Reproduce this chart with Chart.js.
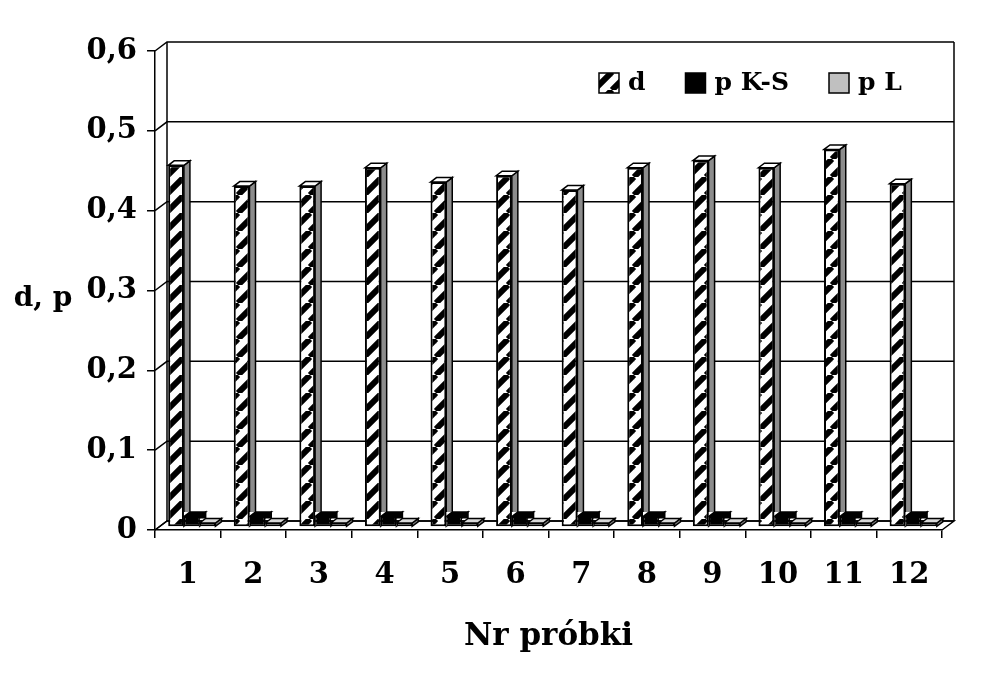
<!DOCTYPE html>
<html>
<head>
<meta charset="utf-8">
<script src="https://cdn.jsdelivr.net/npm/chart.js@4.4.0/dist/chart.umd.min.js"></script>
<style>
html,body{margin:0;padding:0;background:#ffffff;}
#wrap{width:989px;height:693px;position:relative;}
</style>
</head>
<body>
<div id="wrap"><canvas id="c" width="989" height="693"></canvas></div>
<script>
// ---- data ----
const categories = ['1','2','3','4','5','6','7','8','9','10','11','12'];
const seriesNames = ['d', 'p K-S', 'p L'];
const dValues   = [0.453, 0.427, 0.427, 0.450, 0.432, 0.440, 0.422, 0.450, 0.459, 0.450, 0.473, 0.430];
const pKSValues = [0.013, 0.013, 0.013, 0.013, 0.013, 0.013, 0.013, 0.013, 0.013, 0.013, 0.013, 0.013];
const pLValues  = [0.005, 0.005, 0.005, 0.005, 0.005, 0.005, 0.005, 0.005, 0.005, 0.005, 0.005, 0.005];
const yTickLabels = ['0', '0,1', '0,2', '0,3', '0,4', '0,5', '0,6'];
const yAxisTitle = 'd, p';
const xAxisTitle = 'Nr próbki';

// ---- styles ----
const FONT = 'DejaVu Serif';
const WALL_DX = 12, WALL_DY = -9;      // depth of back wall
const BAR_OFF_X = 4, BAR_OFF_Y = -3;   // bar front offset from front plane
const BAR_DX = 6, BAR_DY = -4.5;       // bar depth
const frontColors = [null, '#000000', '#c0c0c0'];
const sideColors = ['#8c8c8c', '#000000', '#808080'];
const topColors = ['#ffffff', '#000000', '#d8d8d8'];

const canvas = document.getElementById('c');
const ctx0 = canvas.getContext('2d');

function makeHatch() {
  const s = 18;
  const c = document.createElement('canvas');
  c.width = s; c.height = s;
  const g = c.getContext('2d');
  g.fillStyle = '#ffffff';
  g.fillRect(0, 0, s, s);
  g.strokeStyle = '#000000';
  g.lineWidth = 6;
  for (const k of [-1, 0, 1]) {
    g.beginPath();
    g.moveTo(k * s, s);
    g.lineTo(k * s + s, 0);
    g.stroke();
  }
  return ctx0.createPattern(c, 'repeat');
}
const hatch = makeHatch();
frontColors[0] = hatch;

function line(ctx, pts) {
  ctx.beginPath();
  ctx.moveTo(pts[0][0], pts[0][1]);
  for (let i = 1; i < pts.length; i++) ctx.lineTo(pts[i][0], pts[i][1]);
  ctx.stroke();
}

const threeD = {
  id: 'threeD',
  beforeDatasetsDraw(chart) {
    const ctx = chart.ctx;
    const {left, right, top, bottom} = chart.chartArea;
    const ys = chart.scales.y;
    ctx.save();
    ctx.strokeStyle = '#000000';
    ctx.lineWidth = 1.5;
    ys.ticks.forEach(t => {
      const py = ys.getPixelForValue(t.value);
      line(ctx, [[left, py], [left + WALL_DX, py + WALL_DY], [right + WALL_DX, py + WALL_DY]]);
    });
    line(ctx, [[left + WALL_DX, top + WALL_DY], [left + WALL_DX, bottom + WALL_DY]]);
    line(ctx, [[right + WALL_DX, top + WALL_DY], [right + WALL_DX, bottom + WALL_DY]]);
    line(ctx, [[left, bottom], [left + WALL_DX, bottom + WALL_DY], [right + WALL_DX, bottom + WALL_DY], [right, bottom]]);
    ctx.restore();
  },
  beforeDatasetDraw(chart, args) {
    chart.ctx.save();
    chart.ctx.translate(BAR_OFF_X, BAR_OFF_Y);
  },
  afterDatasetDraw(chart, args) {
    const ctx = chart.ctx;
    const i = args.index;
    ctx.save();
    if (i + 1 < chart.data.datasets.length) {
      const next = chart.getDatasetMeta(i + 1);
      ctx.beginPath();
      ctx.rect(-200, -200, chart.width + 400, chart.height + 400);
      next.data.forEach(n => {
        const l = n.x - n.width / 2;
        ctx.rect(l, n.y + BAR_DY, n.width + BAR_DX, n.base - n.y - BAR_DY);
      });
      ctx.clip('evenodd');
    }
    ctx.strokeStyle = '#000000';
    ctx.lineWidth = 1.5;
    ctx.lineJoin = 'miter';
    args.meta.data.forEach(el => {
      const l = el.x - el.width / 2, r = el.x + el.width / 2;
      const t = el.y, b = el.base;
      ctx.beginPath();
      ctx.moveTo(r, t);
      ctx.lineTo(r + BAR_DX, t + BAR_DY);
      ctx.lineTo(r + BAR_DX, b + BAR_DY);
      ctx.lineTo(r, b);
      ctx.closePath();
      ctx.fillStyle = sideColors[i];
      ctx.fill();
      ctx.stroke();
      ctx.beginPath();
      ctx.moveTo(l, t);
      ctx.lineTo(l + BAR_DX, t + BAR_DY);
      ctx.lineTo(r + BAR_DX, t + BAR_DY);
      ctx.lineTo(r, t);
      ctx.closePath();
      ctx.fillStyle = topColors[i];
      ctx.fill();
      ctx.stroke();
    });
    ctx.restore();
    ctx.restore();
  },
  afterDraw(chart) {
    const ctx = chart.ctx;
    const {left} = chart.chartArea;
    ctx.save();
    ctx.fillStyle = '#000000';
    ctx.font = 'bold 28px "' + FONT + '"';
    ctx.textAlign = 'center';
    ctx.textBaseline = 'middle';
    const ys = chart.scales.y;
    ctx.fillText(yAxisTitle, 43, ys.getPixelForValue(0.3) + 8);
    // legend inside plot area
    ctx.font = 'bold 25px "' + FONT + '"';
    ctx.textAlign = 'left';
    const box = 20, gapText = 9, gapItem = 40;
    let x = left + 444;
    const yc = 83;
    seriesNames.forEach((name, i) => {
      ctx.fillStyle = frontColors[i];
      ctx.fillRect(x, yc - box / 2, box, box);
      ctx.strokeStyle = '#000000';
      ctx.lineWidth = 1.5;
      ctx.strokeRect(x, yc - box / 2, box, box);
      ctx.fillStyle = '#000000';
      ctx.fillText(name, x + box + gapText, yc);
      x += box + gapText + ctx.measureText(name).width + gapItem;
    });
    ctx.restore();
  }
};

const tickFont = {family: FONT, weight: 'bold', size: 29};

new Chart(canvas, {
  type: 'bar',
  data: {
    labels: categories,
    datasets: [
      {label: seriesNames[0], data: dValues, backgroundColor: frontColors[0], borderColor: '#000000', borderWidth: 2, borderSkipped: false, order: 1},
      {label: seriesNames[1], data: pKSValues, backgroundColor: frontColors[1], borderColor: '#000000', borderWidth: 1.5, borderSkipped: false, order: 2},
      {label: seriesNames[2], data: pLValues, backgroundColor: frontColors[2], borderColor: '#000000', borderWidth: 1.5, borderSkipped: false, order: 3}
    ]
  },
  options: {
    responsive: false,
    animation: false,
    devicePixelRatio: 1,
    layout: {padding: {top: 51, right: 47, left: 0, bottom: 0}},
    datasets: {bar: {categoryPercentage: 0.72, barPercentage: 1.0, clip: false}},
    plugins: {legend: {display: false}, tooltip: {enabled: false}, title: {display: false}},
    scales: {
      x: {
        type: 'category',
        offset: true,
        grid: {display: true, drawOnChartArea: false, drawTicks: true, tickLength: 8, color: '#000000', lineWidth: 1.5, offset: true},
        border: {display: true, color: '#000000', width: 1.5},
        ticks: {font: tickFont, color: '#000000', padding: 20, maxRotation: 0, autoSkip: false},
        title: {display: true, text: xAxisTitle, color: '#000000', font: {family: FONT, weight: 'bold', size: 31}, padding: {top: 0, bottom: 37}},
        afterFit(s) { s.height = 163; }
      },
      y: {
        min: 0, max: 0.6,
        grid: {display: true, drawOnChartArea: false, drawTicks: true, tickLength: 8, color: '#000000', lineWidth: 1.5},
        border: {display: true, color: '#000000', width: 1.5},
        ticks: {stepSize: 0.1, font: tickFont, color: '#000000', padding: 10, callback: (v, i) => yTickLabels[i]},
        afterFit(s) { s.width = 155; }
      }
    }
  },
  plugins: [threeD]
});
</script>
</body>
</html>
